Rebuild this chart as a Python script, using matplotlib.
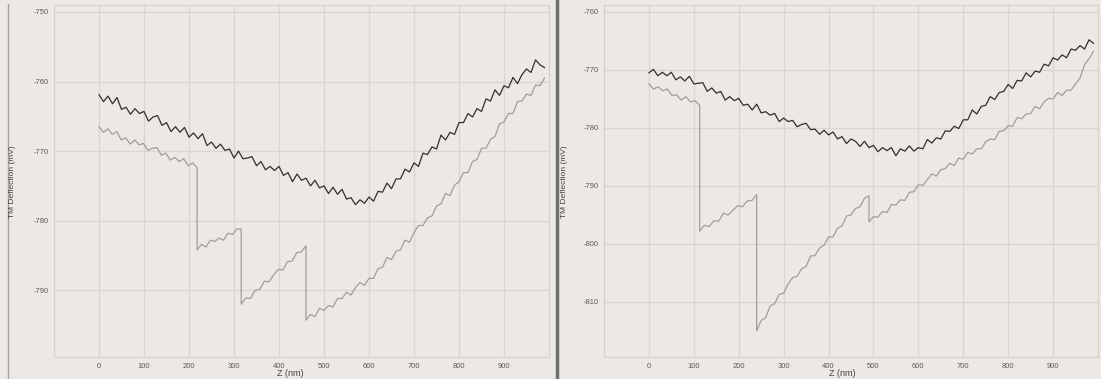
import numpy as np
import matplotlib.pyplot as plt
from matplotlib.lines import Line2D

# ---- data ----
left_black = [
    -761.9, -762.9, -762.1, -763.2, -762.3, -764.0, -763.7, -764.7, -763.9, -764.6,
    -764.3, -765.7, -765.1, -764.9, -766.3, -765.9, -767.2, -766.5, -767.3, -766.6,
    -768.0, -767.4, -768.2, -767.5, -769.2, -768.7, -769.6, -769.0, -769.9, -769.7,
    -771.0, -770.0, -771.1, -771.0, -770.8, -772.1, -771.5, -772.7, -772.2, -772.8,
    -772.2, -773.5, -773.1, -774.4, -773.3, -774.2, -773.9, -775.0, -774.2, -775.3,
    -775.0, -776.1, -775.2, -776.2, -775.5, -776.9, -776.7, -777.7, -777.0, -777.5,
    -776.6, -777.2, -775.8, -775.9, -774.6, -775.4, -774.0, -774.0, -772.6, -773.0,
    -771.7, -772.2, -770.3, -770.5, -769.4, -769.7, -767.7, -768.4, -767.3, -767.6,
    -765.9, -765.9, -764.6, -765.1, -763.9, -764.3, -762.5, -762.8, -761.2, -762.0,
    -760.6, -760.9, -759.4, -760.3, -759.0, -758.2, -758.7, -756.9, -757.6, -758.0,
]

# grey curve: pieces between the sudden drops (z of each break in nm)
left_grey_breaks = [0, 218, 316, 460, 990]
left_grey_pieces = [
    [-766.5, -767.3, -766.8, -767.6, -767.2, -768.4, -768.1, -769.0, -768.4, -769.1,
     -768.9, -769.9, -769.6, -769.5, -770.6, -770.3, -771.3, -770.9, -771.5, -771.1,
     -772.1, -771.7, -772.4],
    [-784.2, -783.4, -783.8, -782.8, -783.0, -782.5, -782.8, -781.8, -782.0, -781.2,
     -781.2],
    [-792.0, -791.1, -791.2, -790.0, -789.9, -788.7, -788.8, -787.8, -787.0, -787.1,
     -785.9, -785.8, -784.6, -784.5, -783.6],
    [-794.3, -793.5, -793.8, -792.6, -792.9, -792.2, -792.4, -791.2, -791.2, -790.3,
     -790.7, -789.6, -788.9, -789.3, -788.3, -788.3, -786.9, -786.7, -785.3, -785.6,
     -784.4, -784.2, -782.8, -783.1, -781.7, -780.7, -780.7, -779.6, -779.3, -777.9,
     -777.6, -776.1, -776.4, -774.9, -774.4, -773.1, -773.1, -771.5, -771.2, -769.6,
     -769.6, -768.3, -767.9, -766.1, -765.8, -764.6, -764.6, -762.9, -762.8, -761.8,
     -762.0, -760.5, -760.6, -759.5],
]

right_black = [
    -770.5, -769.9, -771.0, -770.4, -771.0, -770.4, -771.7, -771.2, -771.9, -771.1,
    -772.4, -772.3, -772.2, -773.7, -773.1, -774.0, -773.7, -775.2, -774.6, -775.3,
    -774.9, -776.1, -775.9, -776.9, -775.9, -777.4, -777.2, -777.8, -777.5, -778.9,
    -778.3, -778.9, -778.7, -779.8, -779.4, -779.2, -780.3, -780.2, -781.1, -780.4,
    -781.2, -780.7, -781.9, -781.5, -782.7, -781.9, -782.3, -783.2, -782.3, -783.4,
    -783.0, -784.1, -783.4, -783.9, -783.4, -784.8, -783.6, -784.0, -783.1, -784.0,
    -783.4, -783.6, -782.0, -782.6, -781.7, -781.9, -780.5, -780.6, -779.7, -780.1,
    -778.6, -778.6, -776.9, -777.6, -776.3, -776.1, -774.6, -775.1, -773.9, -773.7,
    -772.5, -773.2, -771.8, -771.9, -770.5, -771.2, -770.2, -770.4, -769.0, -769.3,
    -767.9, -768.3, -767.4, -767.9, -766.4, -766.6, -765.8, -766.4, -764.8, -765.4,
]

right_grey_breaks = [0, 113, 240, 490, 990]
right_grey_pieces = [
    [-772.4, -773.3, -772.9, -773.6, -773.3, -774.4, -774.3, -775.2, -774.6, -775.5,
     -775.3, -776.1],
    [-797.8, -796.8, -797.0, -796.0, -796.1, -794.7, -795.0, -794.2, -793.4, -793.6,
     -792.6, -792.5, -791.5],
    [-815.0, -813.2, -812.7, -810.7, -810.3, -808.7, -808.5, -806.9, -805.8, -805.6,
     -804.3, -803.9, -802.1, -802.0, -800.7, -800.2, -798.8, -798.8, -797.3, -796.9,
     -795.2, -795.0, -793.9, -793.6, -792.1, -791.7],
    [-796.2, -795.3, -795.4, -794.4, -794.6, -793.2, -793.3, -792.4, -792.5, -791.1,
     -791.0, -789.8, -789.9, -788.9, -787.9, -788.3, -787.2, -787.0, -786.1, -786.5,
     -785.2, -785.4, -784.2, -784.5, -783.6, -783.6, -782.4, -781.9, -782.0, -780.6,
     -780.5, -779.6, -779.7, -778.2, -778.4, -777.6, -777.5, -776.3, -776.7, -775.5,
     -774.9, -775.0, -773.9, -774.4, -773.5, -773.5, -772.4, -771.4, -769.1, -768.1,
     -766.8],
]

x_ticks = [0, 100, 200, 300, 400, 500, 600, 700, 800, 900]
left_y_ticks = [-790, -780, -770, -760, -750]
right_y_ticks = [-810, -800, -790, -780, -770, -760]

BG = "#ece9e4"
GRID = "#d9d5cf"
DARK = "#2f2f2f"
LIGHT = "#9e9e9e"

plt.rcParams["font.family"] = ["Liberation Sans", "DejaVu Sans"]
plt.rcParams["axes.unicode_minus"] = False


def pieces_xy(breaks, pieces):
    xs, ys = [], []
    for i, p in enumerate(pieces):
        xs.extend(np.linspace(breaks[i], breaks[i + 1], len(p)))
        ys.extend(p)
    return xs, ys


def style(ax, ylim, yticks):
    ax.set_facecolor(BG)
    ax.set_xlim(-100, 1000)
    ax.set_ylim(*ylim)
    ax.set_xticks(x_ticks)
    ax.set_yticks(yticks)
    ax.set_yticklabels([str(t) for t in yticks])
    ax.tick_params(length=0, labelsize=5.5, colors="#5a5a5a", pad=4)
    ax.grid(True, color=GRID, lw=1.0)
    ax.axvline(-100, color=GRID, lw=1.0)
    for s in ax.spines.values():
        s.set_color("#d6d2cb")
        s.set_linewidth(0.8)


fig = plt.figure(figsize=(11.01, 3.79), dpi=100, facecolor=BG)

ax1 = fig.add_axes([54 / 1101, 22 / 379, 495 / 1101, 352 / 379])
ax2 = fig.add_axes([604 / 1101, 22 / 379, 494 / 1101, 352 / 379])

z_black = np.arange(0, 1000, 10)
gx, gy = pieces_xy(left_grey_breaks, left_grey_pieces)
ax1.plot(gx, gy, color=LIGHT, lw=0.9)
ax1.plot(z_black, left_black, color=DARK, lw=0.9)
style(ax1, (-799.6, -749.0), left_y_ticks)

gx, gy = pieces_xy(right_grey_breaks, right_grey_pieces)
ax2.plot(gx, gy, color=LIGHT, lw=0.9)
ax2.plot(z_black, right_black, color=DARK, lw=0.9)
style(ax2, (-819.5, -758.8), right_y_ticks)

for xl, xt in [(13, 290), (565, 842)]:
    fig.text(xl / 1101, 0.52, "TM Deflection (mV)", rotation=90, ha="center",
             va="center", fontsize=6, color="#444444")
    fig.text(xt / 1101, 6 / 379, "Z (nm)", ha="center", va="center",
             fontsize=6.5, color="#444444")

# panel separator and left border
fig.add_artist(Line2D([557 / 1101, 557 / 1101], [0, 1], color="#6e6e6e", lw=2.5))
fig.add_artist(Line2D([8 / 1101, 8 / 1101], [0, 0.99], color="#a5a29d", lw=1.0))

fig.savefig("out.png", dpi=100, facecolor=BG)
